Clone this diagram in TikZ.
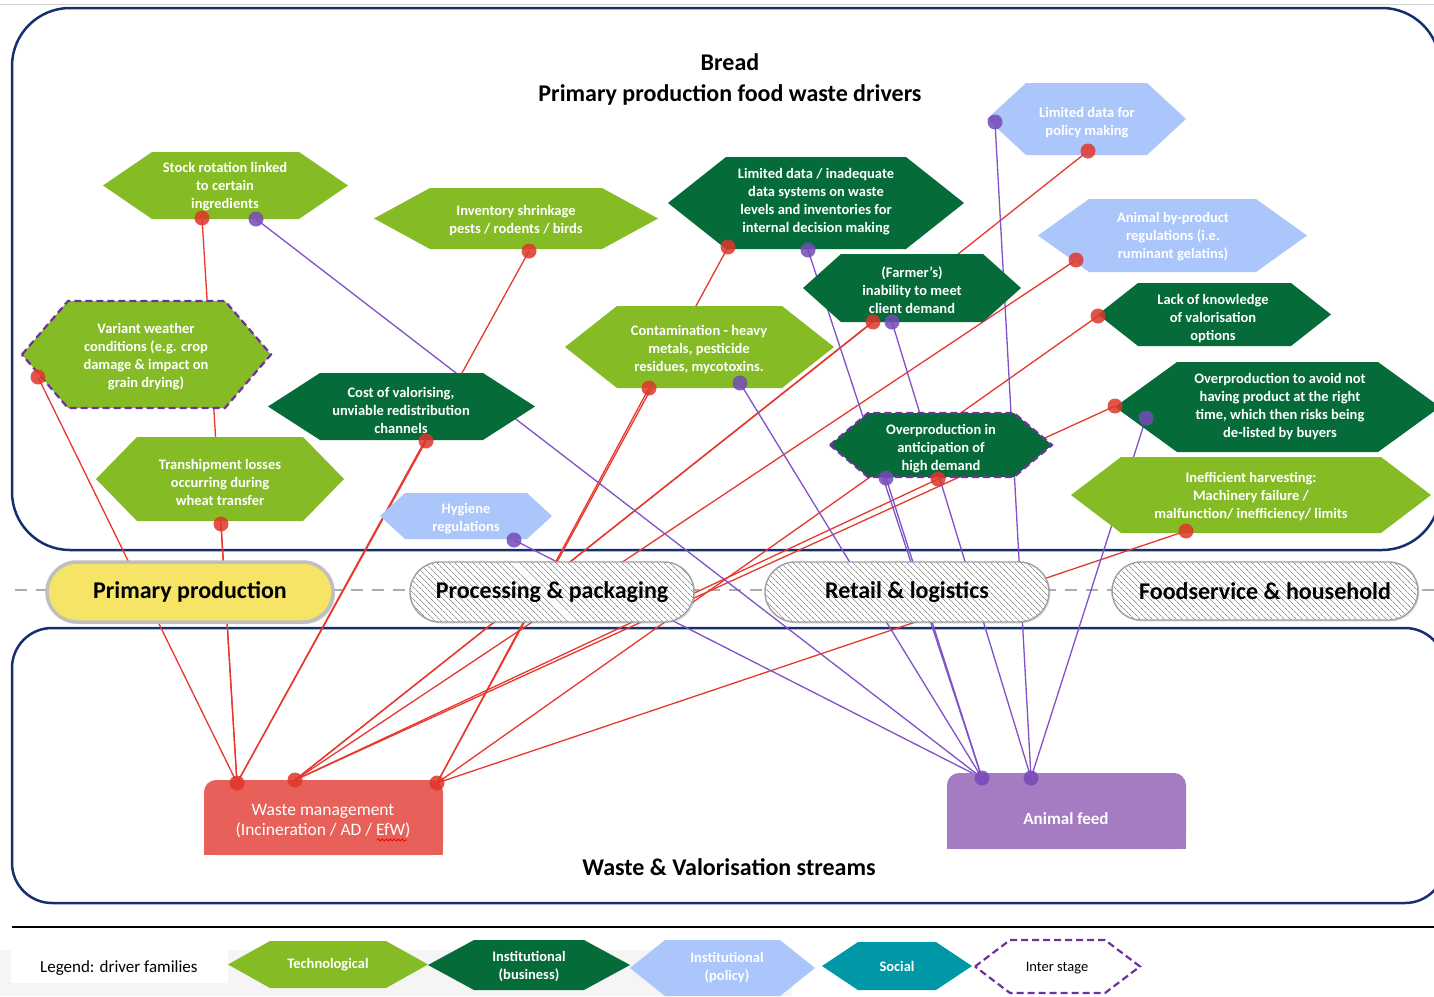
\documentclass[tikz,border=0pt]{standalone}
\usepackage{fontspec}
\setmainfont{Carlito}
\usetikzlibrary{shapes.misc,patterns.meta,shadows,decorations.pathmorphing}
\pgfdeclarelayer{bglayer}
\pgfdeclarelayer{linelayer}
\pgfdeclarelayer{toplayer}
\pgfsetlayers{bglayer,linelayer,main,toplayer}
\definecolor{lgreen}{HTML}{85BC25}
\definecolor{dgreen}{HTML}{056B38}
\definecolor{lblue}{HTML}{ABC6FB}
\definecolor{socteal}{HTML}{0098A6}
\definecolor{ipurple}{HTML}{7030A0}
\definecolor{navyline}{HTML}{14306E}
\definecolor{redline}{HTML}{E8382C}
\definecolor{reddot}{HTML}{E0362B}
\definecolor{purpline}{HTML}{8250C8}
\definecolor{purpdot}{HTML}{7649B8}
\definecolor{wastecol}{HTML}{E8605A}
\definecolor{feedcol}{HTML}{A57BC2}
\definecolor{ppyellow}{HTML}{F6E466}
\newcommand{\hexshape}[6][]{%
  \path[#1] (#2-#4,#3) -- (#2-#4+#6,#3-#5) -- (#2+#4-#6,#3-#5) -- (#2+#4,#3)
    -- (#2+#4-#6,#3+#5) -- (#2-#4+#6,#3+#5) -- cycle;}
\tikzset{
  hextext/.style={text=white, font=\fontsize{14.5}{18}\selectfont\bfseries, align=center, inner sep=0pt},
  rdot/.style={circle, fill=reddot, fill opacity=0.85, minimum size=15pt, inner sep=0pt},
  pdot/.style={circle, fill=purpdot, fill opacity=0.85, minimum size=15pt, inner sep=0pt},
  rline/.style={draw=redline, line width=1.3pt},
  pline/.style={draw=purpline, line width=1.3pt},
  interb/.style={draw=ipurple, line width=2.2pt, dash pattern=on 7pt off 4pt},
  stagefont/.style={font=\fontsize{24}{28}\selectfont\bfseries, text=black},
  hatchpill/.style={rounded rectangle, draw=gray!75, line width=1.4pt,
    drop shadow={shadow xshift=1.5pt, shadow yshift=-1.5pt, opacity=0.25},
    preaction={fill=white},
    pattern={Lines[angle=-45,distance=4pt,line width=0.7pt]}, pattern color=gray!85,
    minimum height=60pt, inner sep=0pt, stagefont},
  yellowpill/.style={rounded rectangle, draw=gray!100!black!50, line width=3.5pt,
    fill=ppyellow, drop shadow={shadow xshift=2pt, shadow yshift=-2pt, opacity=0.3},
    minimum height=60pt, minimum width=286pt, inner sep=0pt, stagefont},
  titlefont/.style={font=\fontsize{24}{31}\selectfont\bfseries, text=black, align=center},
  boxtext/.style={text=white, font=\fontsize{17.5}{20}\selectfont, align=center, inner sep=0pt},
}
\begin{document}
\begin{tikzpicture}[x=1pt,y=-1pt]
\useasboundingbox (0,0) rectangle (1434,996);
\begin{pgfonlayer}{bglayer}
  \fill[white] (0,0) rectangle (1434,996);
  \draw[gray!35, line width=0.8pt] (0,4) -- (1434,4);
  \draw[navyline, line width=2.5pt, rounded corners=58pt] (12,8) rectangle (1440,550);
  \draw[navyline, line width=2.5pt, rounded corners=40pt] (12,628) rectangle (1445,903);
  \draw[gray!65, line width=2pt, dash pattern=on 12pt off 9pt] (15,590) -- (1434,590);
  \draw[black, line width=2.5pt] (12,927) -- (1434,927);
  \fill[gray!8] (0,950) rectangle (792,996);
  \fill[white] (11,938) rectangle (228,983);
\end{pgfonlayer}

% titles
\node[titlefont] (title) at (730,79) {Bread\\Primary production food waste drivers};
\node[titlefont] (streams) at (729,867) {Waste \& Valorisation streams};

% driver hexagons
\hexshape[fill=lgreen]{225.5}{185.5}{122.5}{33.5}{49}
\node[hextext] (stock) at (225,187) {Stock rotation linked\\to certain\\ingredients};
\hexshape[fill=lgreen, interb]{146.5}{354.5}{124.5}{53.5}{46}
\node[hextext] (variant) at (146,357) {Variant weather\\conditions (e.g. crop\\damage \& impact on\\grain drying)};
\hexshape[fill=lgreen]{220}{479}{124}{42}{41}
\node[hextext] (tranship) at (220,482) {Transhipment losses\\occurring during\\wheat transfer};
\hexshape[fill=lgreen]{516}{218.5}{142}{30.5}{56}
\node[hextext] (inventory) at (516,221) {Inventory shrinkage\\pests / rodents / birds};
\hexshape[fill=dgreen]{401.5}{406.5}{133.5}{33.5}{52}
\node[hextext] (cost) at (401,410) {Cost of valorising,\\unviable redistribution\\channels};
\hexshape[fill=lblue]{466}{516}{86}{23}{25}
\node[hextext] (hygiene) at (466,519) {Hygiene\\regulations};
\hexshape[fill=lgreen]{699.5}{347}{134.5}{41}{52}
\node[hextext] (contam) at (699,350) {Contamination - heavy\\metals, pesticide\\residues, mycotoxins.};
\hexshape[fill=dgreen]{816}{203}{148}{46}{58}
\node[hextext] (limdata) at (816,202) {Limited data / inadequate\\data systems on waste\\levels and inventories for\\internal decision making};
\hexshape[fill=dgreen]{912}{288}{109}{34}{38}
\node[hextext] (farmer) at (912,290) {(Farmer’s)\\inability to meet\\client demand};
\hexshape[fill=lblue]{1086.5}{119}{99.5}{36}{39}
\node[hextext] (policy) at (1087,123) {Limited data for\\policy making};
\hexshape[fill=lblue]{1172.5}{235.5}{134.5}{36.5}{51}
\node[hextext] (abp) at (1173,237) {Animal by-product\\regulations (i.e.\\ruminant gelatins)};
\hexshape[fill=dgreen]{1214.5}{314.5}{116.5}{31.5}{40}
\node[hextext] (lack) at (1213,319) {Lack of knowledge\\of valorisation\\options};
\hexshape[fill=dgreen]{1277.5}{407}{162.5}{45}{62}
\node[hextext] (ovavoid) at (1280,407) {Overproduction to avoid not\\having product at the right\\time, which then risks being\\de-listed by buyers};
\hexshape[fill=lgreen]{1251}{495}{180}{38}{50}
\node[hextext] (ineff) at (1251,497) {Inefficient harvesting:\\Machinery failure /\\malfunction/ inefficiency/ limits};
\hexshape[fill=dgreen, interb]{941}{445}{111}{32}{38}
\node[hextext] (antic) at (941,449) {Overproduction in\\anticipation of\\high demand};

% stages
\node[yellowpill] (primary) at (190,592) {Primary production};
\node[hatchpill, minimum width=284pt] (proc) at (552,592) {Processing \& packaging};
\node[hatchpill, minimum width=284pt] (retail) at (907,592) {Retail \& logistics};
\node[hatchpill, minimum width=306pt, minimum height=58pt] (foodserv) at (1265,591) {Foodservice \& household};

% destination boxes
\fill[wastecol, rounded corners=12pt] (204,780) rectangle (443,855);
\fill[wastecol] (204,805) rectangle (443,855);
\node[boxtext] (waste) at (323,821) {Waste management\\(Incineration / AD / EfW)};
\draw[red, line width=0.8pt, decorate, decoration={snake, amplitude=1.1pt, segment length=4pt}] (377,840) -- (407,840);
\fill[feedcol, rounded corners=12pt] (947,773) rectangle (1186,849);
\fill[feedcol] (947,800) rectangle (1186,849);
\node[boxtext, font=\fontsize{17}{20}\selectfont\bfseries] (feed) at (1066,819) {Animal feed};

% legend
\node[font=\fontsize{17}{20}\selectfont, text=black, anchor=west, inner sep=0pt] (legend) at (40,968) {Legend: driver families};
\hexshape[fill=lgreen]{328}{964.5}{100}{23.5}{42}
\node[hextext] (ltech) at (328,965) {Technological};
\hexshape[fill=dgreen]{529}{965}{101}{25}{46}
\node[hextext] (lbus) at (529,966) {Institutional\\(business)};
\hexshape[fill=lblue]{722.5}{968}{92.5}{28}{35}
\node[hextext] (lpol) at (727,968) {Institutional\\(policy)};
\hexshape[fill=socteal]{897}{966}{75}{24}{36}
\node[hextext] (lsoc) at (897,966) {Social};
\hexshape[fill=white, interb]{1057.5}{966.5}{82.5}{26.5}{35}
\node[font=\fontsize{14.5}{17}\selectfont, text=black, inner sep=0pt] (linter) at (1057,968) {Inter stage};

% dots
\begin{pgfonlayer}{toplayer}
  \node[rdot] (stockR) at (202,218) {};
  \node[pdot] (stockP) at (256,219) {};
  \node[rdot] (variantR) at (38,377) {};
  \node[rdot] (transR) at (221,524) {};
  \node[rdot] (invR) at (529,251) {};
  \node[rdot] (costR) at (426,441) {};
  \node[pdot] (hygP) at (514,540) {};
  \node[rdot] (contR) at (649,388) {};
  \node[pdot] (contP) at (740,383) {};
  \node[rdot] (limR) at (728,247) {};
  \node[pdot] (limP) at (808,250) {};
  \node[rdot] (farmR) at (873,322) {};
  \node[pdot] (farmP) at (892,322) {};
  \node[pdot] (polP) at (995,122) {};
  \node[rdot] (polR) at (1088,151) {};
  \node[rdot] (abpR) at (1076,260) {};
  \node[rdot] (lackR) at (1098,316) {};
  \node[rdot] (ovaR) at (1115,406) {};
  \node[pdot] (ovaP) at (1146,418) {};
  \node[rdot] (ineffR) at (1186,531) {};
  \node[pdot] (antP) at (886,478) {};
  \node[rdot] (antR) at (938,479) {};
  \node[rdot] (wA) at (237,783) {};
  \node[rdot] (wB) at (295,780) {};
  \node[rdot] (wC) at (437,783) {};
  \node[pdot] (aA) at (982,778) {};
  \node[pdot] (aB) at (1031,778) {};
\end{pgfonlayer}

% connectors
\begin{pgfonlayer}{linelayer}
  \foreach \s in {variantR,transR,stockR,costR,invR} \draw[rline] (\s.center) -- (wA.center);
  \foreach \s in {polR,farmR,abpR,ovaR,antR} \draw[rline] (\s.center) -- (wB.center);
  \foreach \s in {contR,limR,lackR,ineffR} \draw[rline] (\s.center) -- (wC.center);
  \foreach \s in {stockP,hygP,contP,limP,antP} \draw[pline] (\s.center) -- (aA.center);
  \foreach \s in {farmP,polP,ovaP} \draw[pline] (\s.center) -- (aB.center);
\end{pgfonlayer}
\end{tikzpicture}
\end{document}
